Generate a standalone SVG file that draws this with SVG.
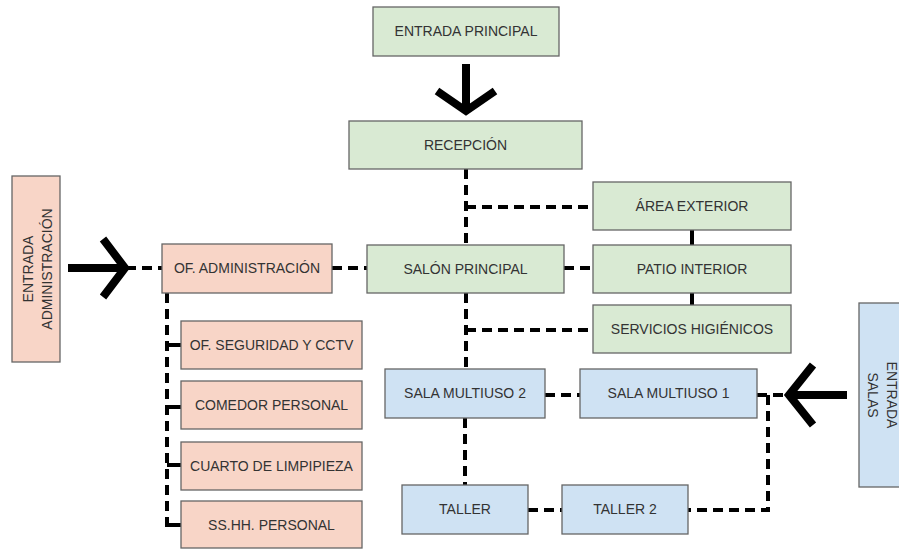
<svg xmlns="http://www.w3.org/2000/svg" width="899" height="549" viewBox="0 0 899 549">
<style>
.g{fill:#d9ead3;stroke:#666;stroke-width:1.3}
.p{fill:#f8d5c7;stroke:#666;stroke-width:1.3}
.b{fill:#cfe2f3;stroke:#666;stroke-width:1.3}
text{font-family:"Liberation Sans",Arial,sans-serif;font-size:14px;fill:#333;text-anchor:middle}
.d{fill:none;stroke:#000;stroke-width:4;stroke-dasharray:10 6}
.s{fill:none;stroke:#000;stroke-width:4}
.a{fill:none;stroke:#000;stroke-width:8;stroke-linejoin:miter;stroke-miterlimit:10}
</style>
<rect width="899" height="549" fill="#fff"/>
<g id="connectors">
<path class="d" d="M466,169V245"/>
<path class="d" d="M466,207H593"/>
<path class="d" d="M564,268H593"/>
<path class="s" d="M692,230V245M692,293V305"/>
<path class="d" d="M466,293V369"/>
<path class="d" d="M466,330H593"/>
<path class="d" d="M545,395H580"/>
<path class="d" d="M465,418V485"/>
<path class="d" d="M528,510H562"/>
<path class="d" d="M757,395H790"/>
<path class="d" d="M768,395V510H688"/>
<path class="d" d="M126,268H162"/>
<path class="d" d="M332,268H367"/>
<path class="d" d="M167,293V527"/>
<path class="s" d="M167,345H181M167,407H181M167,465H181M167,525H181"/>
<path class="a" d="M466,64V108"/>
<polyline class="a" points="437,91 466,111 495,91"/>
<path class="a" d="M68,268H122"/>
<polyline class="a" points="103,239 125,268 103,297"/>
<path class="a" d="M847,395H792"/>
<polyline class="a" points="813,365 789,395 813,425"/>
</g>
<g id="entrada-principal"><rect class="g" x="373" y="7" width="186" height="49"/><text x="466" y="36">ENTRADA PRINCIPAL</text></g>
<g id="recepcion"><rect class="g" x="349" y="121" width="233" height="48"/><text x="465.5" y="150">RECEPCIÓN</text></g>
<g id="area-exterior"><rect class="g" x="593" y="182" width="198" height="48"/><text x="692" y="211">ÁREA EXTERIOR</text></g>
<g id="salon-principal"><rect class="g" x="367" y="245" width="197" height="48"/><text x="465.5" y="274">SALÓN PRINCIPAL</text></g>
<g id="patio-interior"><rect class="g" x="593" y="245" width="198" height="48"/><text x="692" y="274">PATIO INTERIOR</text></g>
<g id="servicios-higienicos"><rect class="g" x="593" y="305" width="198" height="48"/><text x="692" y="334">SERVICIOS HIGIÉNICOS</text></g>
<g id="entrada-administracion"><rect class="p" x="12" y="176" width="48" height="186"/>
<text transform="translate(28,269) rotate(-90)" y="5">ENTRADA</text>
<text transform="translate(47,269) rotate(-90)" y="5">ADMINISTRACIÓN</text></g>
<g id="of-administracion"><rect class="p" x="162" y="244" width="170" height="49"/><text x="247" y="273">OF. ADMINISTRACIÓN</text></g>
<g id="of-seguridad"><rect class="p" x="181" y="321" width="181" height="48"/><text x="271.5" y="350">OF. SEGURIDAD Y CCTV</text></g>
<g id="comedor-personal"><rect class="p" x="181" y="381" width="181" height="48"/><text x="271.5" y="410">COMEDOR PERSONAL</text></g>
<g id="cuarto-limpieza"><rect class="p" x="181" y="442" width="181" height="48"/><text x="271.5" y="471">CUARTO DE LIMPIPIEZA</text></g>
<g id="sshh-personal"><rect class="p" x="181" y="501" width="181" height="47"/><text x="271.5" y="530">SS.HH. PERSONAL</text></g>
<g id="sala-multiuso-2"><rect class="b" x="385" y="369" width="160" height="49"/><text x="465" y="398">SALA MULTIUSO 2</text></g>
<g id="sala-multiuso-1"><rect class="b" x="580" y="369" width="177" height="49"/><text x="668.5" y="398">SALA MULTIUSO 1</text></g>
<g id="taller"><rect class="b" x="402" y="485" width="126" height="49"/><text x="465" y="514">TALLER</text></g>
<g id="taller-2"><rect class="b" x="562" y="485" width="126" height="49"/><text x="625" y="514">TALLER 2</text></g>
<g id="entrada-salas"><rect class="b" x="859" y="303" width="50" height="184"/>
<text transform="translate(892,395) rotate(90)" y="5">ENTRADA</text>
<text transform="translate(873,395) rotate(90)" y="5">SALAS</text></g>
</svg>
